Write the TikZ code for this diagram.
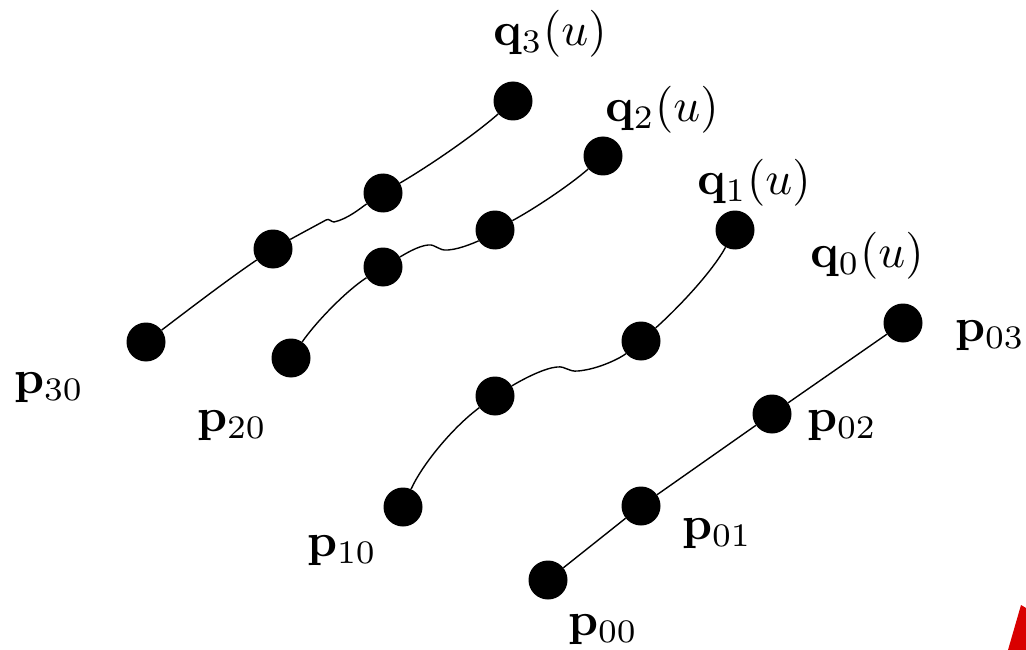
\documentclass[tikz,border=0pt]{standalone}
\usepackage{graphicx}
\usepackage{amsmath}
\newcommand{\biglbl}[1]{\scalebox{4.7}{#1}}
\begin{document}
\begin{tikzpicture}[x=1pt,y=-1pt,
  dot/.style={circle,fill=black,inner sep=0pt,minimum size=39pt},
  lbl/.style={inner sep=0pt},
  curve/.style={line width=1.4pt}]
\useasboundingbox (0,0) rectangle (1026,650);
% row 3
\node[dot] (a0) at (146,342) {};
\node[dot] (a1) at (273,249) {};
\node[dot] (a2) at (383,193) {};
\node[dot] (a3) at (513,101) {};
% row 2
\node[dot] (b0) at (291,358) {};
\node[dot] (b1) at (383,267) {};
\node[dot] (b2) at (495,230) {};
\node[dot] (b3) at (603,156) {};
% row 1
\node[dot] (c0) at (403,507) {};
\node[dot] (c1) at (495,396) {};
\node[dot] (c2) at (641,341) {};
\node[dot] (c3) at (735,230) {};
% row 0
\node[dot] (d0) at (548,580) {};
\node[dot] (d1) at (641,506) {};
\node[dot] (d2) at (772,414) {};
\node[dot] (d3) at (903,323) {};
% curves
\draw[curve] (a0) .. controls (188,310) and (230,278) .. (a1);
\draw[curve] (a1) .. controls (300,234) and (315,226) .. (326,220) .. controls (329,218) and (331,222) .. (334,222) .. controls (348,219) and (362,207) .. (a2);
\draw[curve] (a2) .. controls (429,166) and (473,136) .. (a3);
\draw[curve] (b0) .. controls (316,322) and (346,291) .. (b1);
\draw[curve] (b1) .. controls (405,254) and (418,246) .. (428,245) .. controls (436,244) and (438,251) .. (448,250) .. controls (462,249) and (480,240) .. (b2);
\draw[curve] (b2) .. controls (534,209) and (570,185) .. (b3);
\draw[curve] (c0) .. controls (422,465) and (452,428) .. (c1);
\draw[curve] (c1) .. controls (525,378) and (545,368) .. (557,367) .. controls (566,366) and (568,372) .. (578,371) .. controls (600,369) and (622,357) .. (c2);
\draw[curve] (c2) .. controls (678,308) and (712,272) .. (c3);
\draw[curve] (d0) -- (d1);
\draw[curve] (d1) -- (d2);
\draw[curve] (d2) -- (d3);
% labels
\node[lbl] (q3) at (550,34) {\biglbl{$\mathbf{q}_3(u)$}};
\node[lbl] (q2) at (662,110) {\biglbl{$\mathbf{q}_2(u)$}};
\node[lbl] (q1) at (754,183) {\biglbl{$\mathbf{q}_1(u)$}};
\node[lbl] (q0) at (867,256) {\biglbl{$\mathbf{q}_0(u)$}};
\node[lbl] (p30) at (49,388) {\biglbl{$\mathbf{p}_{30}$}};
\node[lbl] (p20) at (232,426) {\biglbl{$\mathbf{p}_{20}$}};
\node[lbl] (p10) at (342,551) {\biglbl{$\mathbf{p}_{10}$}};
\node[lbl] (p00) at (603,630) {\biglbl{$\mathbf{p}_{00}$}};
\node[lbl] (p01) at (717,534) {\biglbl{$\mathbf{p}_{01}$}};
\node[lbl] (p02) at (842,426) {\biglbl{$\mathbf{p}_{02}$}};
\node[lbl] (p03) at (990,336) {\biglbl{$\mathbf{p}_{03}$}};
% red corner shape
\fill[red!85!black] (1008,650) -- (1021,605) -- (1026,608) -- (1026,650) -- cycle;
\end{tikzpicture}
\end{document}
